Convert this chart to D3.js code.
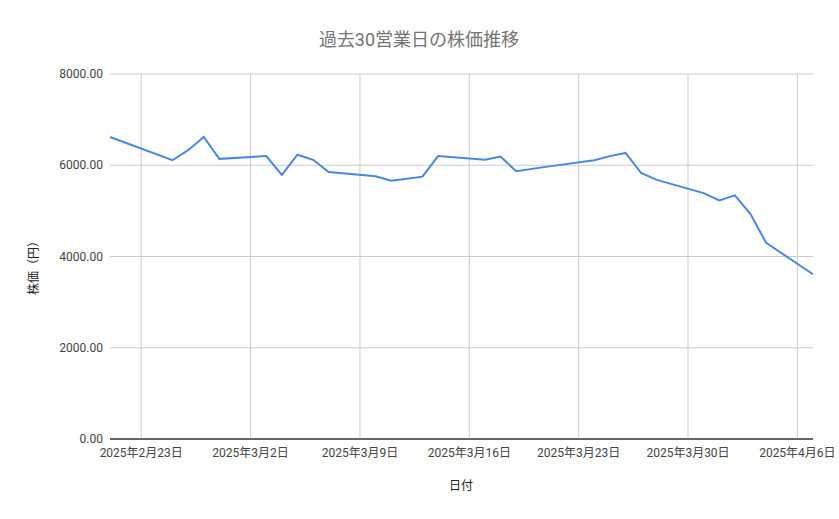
<!DOCTYPE html>
<html><head><meta charset="utf-8">
<script src="https://cdn.jsdelivr.net/npm/d3@7"></script>
<style>body{margin:0;background:#fff;font-family:Roboto,"Noto Sans CJK JP",sans-serif}</style>
</head><body><svg id="c" width="839" height="519"></svg>
<script>
const dates=["2025-02-21","2025-02-25","2025-02-26","2025-02-27","2025-02-28","2025-03-03","2025-03-04","2025-03-05","2025-03-06","2025-03-07","2025-03-10","2025-03-11","2025-03-12","2025-03-13","2025-03-14","2025-03-17","2025-03-18","2025-03-19","2025-03-21","2025-03-24","2025-03-25","2025-03-26","2025-03-27","2025-03-28","2025-03-31","2025-04-01","2025-04-02","2025-04-03","2025-04-04","2025-04-07"];
const prices=[6620,6110,6330,6620,6140,6200,5790,6230,6120,5850,5760,5660,5705,5750,6200,6120,6190,5870,5970,6110,6200,6270,5830,5680,5390,5230,5340,4930,4300,3610];
const xTicks=["2025-02-23","2025-03-02","2025-03-09","2025-03-16","2025-03-23","2025-03-30","2025-04-06"];
const yTicks=[0,2000,4000,6000,8000];
const p=d3.timeParse("%Y-%m-%d");
const svg=d3.select("#c");
const L=110,R=813,T=74,B=439;
const x=d3.scaleTime().domain([p("2025-02-21"),p("2025-04-07")]).range([L,R]);
const y=d3.scaleLinear().domain([0,8000]).range([B,T]);
const g=svg.append("g");
yTicks.forEach(v=>{
 g.append("line").attr("x1",L).attr("x2",R).attr("y1",y(v)).attr("y2",y(v)).attr("stroke",v===0?"#333":"#ccc");
 g.append("text").attr("x",L-7).attr("y",y(v)+4).attr("text-anchor","end").attr("font-size",12).attr("fill","#444").text(d3.format(".2f")(v));
});
xTicks.forEach(s=>{const d=p(s);
 g.append("line").attr("x1",x(d)).attr("x2",x(d)).attr("y1",T).attr("y2",B).attr("stroke","#ccc");
 g.append("text").attr("x",x(d)).attr("y",B+18).attr("text-anchor","middle").attr("font-size",12).attr("fill","#444").text(d3.timeFormat("%Y年%-m月%-d日")(d));
});
g.append("line").attr("x1",L).attr("x2",R).attr("y1",B).attr("y2",B).attr("stroke","#333");
const data=dates.map((d,i)=>({d:p(d),v:prices[i]}));
svg.append("path").datum(data).attr("fill","none").attr("stroke","#4a86e8").attr("stroke-width",2)
 .attr("d",d3.line().x(d=>x(d.d)).y(d=>y(d.v)));
svg.append("text").attr("x",419).attr("y",46).attr("text-anchor","middle").attr("font-size",18).attr("fill","#757575").text("過去30営業日の株価推移");
svg.append("text").attr("x",461).attr("y",490).attr("text-anchor","middle").attr("font-size",12).attr("fill","#222").text("日付");
svg.append("text").attr("transform","translate(38,265) rotate(-90)").attr("text-anchor","middle").attr("font-size",12).attr("fill","#222").text("株価（円）");
</script></body></html>
